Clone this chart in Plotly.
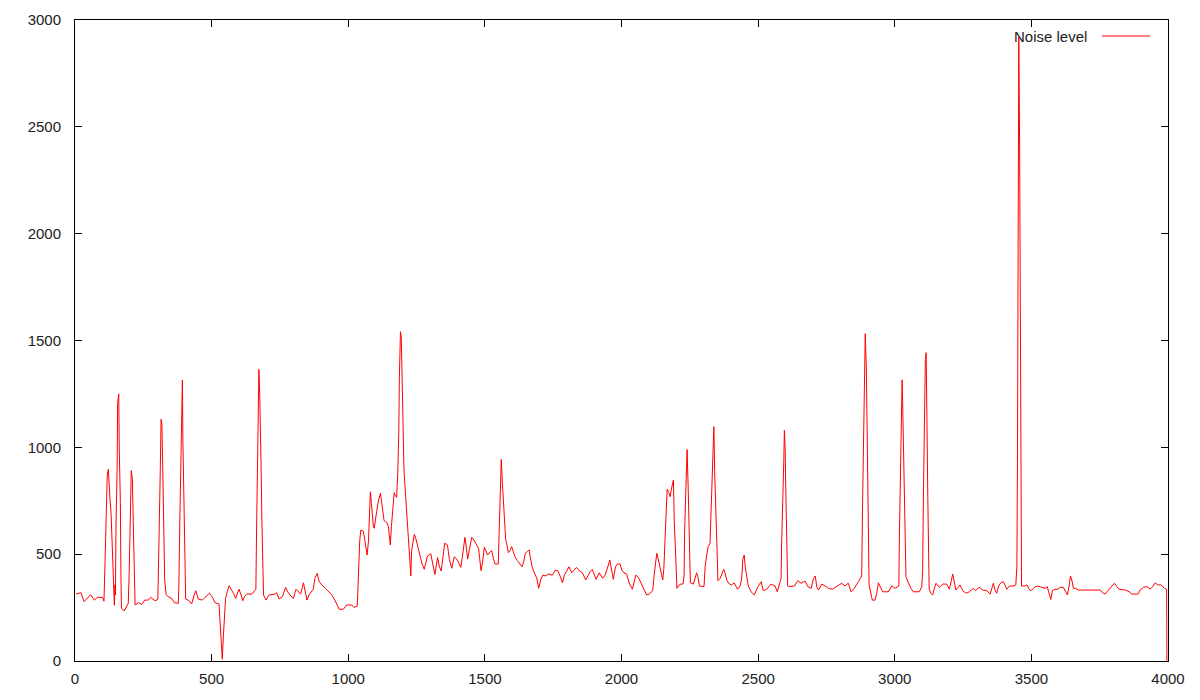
import plotly.graph_objects as go

# Sample positions and noise level values
x_vals = [4, 22, 33, 57, 71, 82, 100, 106, 111, 115, 118, 122, 124, 128, 132, 135, 139, 142, 144, 146, 148, 150,
          154, 156, 160, 162, 166, 168, 170, 180, 187, 195, 198, 201, 204, 206, 210, 212, 216, 220, 232, 244, 255,
          268, 277, 293, 303, 305, 309, 312, 315, 318, 321, 325, 328, 333, 339, 354, 363, 378, 380, 384, 387, 390,
          393, 395, 399, 403, 405, 415, 427, 436, 442, 451, 466, 476, 492,
          503, 512, 527, 531, 533, 537, 539, 543, 546, 551, 557, 564, 571, 580, 588, 593, 600, 608, 614, 620, 628,
          647, 656, 662, 664, 667, 671, 673, 676, 678, 681, 684, 687, 690, 699, 710, 732, 738, 747, 759, 771, 778,
          787, 799, 809, 817, 826, 836, 842, 849, 856, 864, 872, 878, 886, 894, 903, 917, 930, 940, 952, 961, 967,
          982, 988,
          994, 1013, 1021, 1033, 1035, 1038, 1042, 1046, 1055, 1060, 1065, 1069, 1074, 1077, 1081, 1085, 1088, 1092,
          1095, 1099, 1104, 1108, 1111, 1118, 1122, 1126, 1131, 1141, 1147, 1150, 1154, 1158, 1163, 1168, 1171,
          1177, 1181, 1185, 1187, 1191, 1194, 1197, 1200, 1204, 1208, 1211, 1216, 1220, 1225, 1229, 1232, 1237,
          1242, 1248, 1255, 1263, 1270, 1278, 1290, 1302, 1309, 1317, 1327, 1333, 1340, 1348, 1353, 1363, 1370,
          1379, 1388, 1397, 1403, 1412, 1418, 1424, 1427, 1431, 1437, 1443, 1452, 1460, 1470, 1477,
          1481, 1486, 1491, 1498, 1504, 1510, 1520, 1525, 1531, 1537, 1549, 1553, 1557, 1560, 1564, 1568, 1571,
          1576, 1580, 1586, 1593, 1598, 1604, 1610, 1619, 1629, 1636, 1642, 1648, 1655, 1662, 1666, 1673, 1681,
          1690, 1697, 1704, 1712, 1723, 1732, 1747, 1757, 1767, 1776, 1784, 1791, 1800, 1808, 1818, 1826, 1835,
          1845, 1857, 1869, 1879, 1885, 1893, 1900, 1907, 1918, 1924, 1931, 1940, 1947, 1952, 1957, 1962, 1967,
          1970,
          1978, 1985, 1995, 2001, 2009, 2019, 2025, 2031, 2040, 2046, 2052, 2062, 2070, 2078, 2085, 2092, 2102,
          2114, 2120, 2124, 2129, 2135, 2141, 2147, 2151, 2155, 2159, 2163, 2167, 2173, 2178, 2182, 2186, 2190,
          2193, 2198, 2203, 2211, 2217, 2225, 2229, 2231, 2236, 2240, 2244, 2247, 2252, 2263, 2269, 2275, 2280,
          2285, 2302, 2306, 2312, 2317, 2324, 2329, 2334, 2338, 2341, 2345, 2350, 2353, 2361, 2368, 2374, 2380,
          2386, 2395, 2403, 2412, 2419, 2425, 2434, 2440, 2444, 2449, 2453, 2458, 2464, 2474, 2486, 2498, 2511,
          2519, 2532, 2547, 2562, 2570, 2578, 2584, 2586, 2590, 2594, 2596, 2599, 2601, 2605, 2608, 2617, 2633,
          2645, 2657, 2672, 2682, 2694, 2703, 2709, 2715, 2721, 2733, 2745, 2757, 2772, 2791, 2806, 2818, 2830,
          2840, 2852, 2867, 2879, 2882, 2885, 2889, 2892, 2896, 2900, 2903, 2906, 2913, 2918, 2928, 2934, 2940,
          2947, 2956, 2977, 2989, 3001, 3015, 3017, 3022, 3024, 3027, 3029, 3034, 3038, 3041, 3050, 3059, 3068,
          3090, 3099, 3102, 3105, 3108, 3112, 3115, 3117, 3121, 3124, 3126, 3132, 3139, 3144, 3151, 3163, 3176,
          3190, 3200, 3207, 3212, 3217, 3224, 3233, 3239, 3249, 3261, 3273, 3288, 3296, 3309, 3322, 3337, 3349,
          3361, 3367, 3373, 3382, 3389, 3398, 3404, 3410, 3420, 3434, 3443, 3447, 3449, 3451, 3454, 3457, 3460,
          3462, 3464, 3474, 3484, 3491, 3499, 3511, 3523, 3538, 3550, 3558, 3565, 3571, 3577, 3587, 3597, 3605,
          3617, 3626, 3632, 3638, 3643, 3648, 3654, 3663, 3672, 3690, 3715, 3752, 3760, 3770, 3782, 3794, 3804,
          3813, 3821, 3843, 3858, 3868, 3890, 3898, 3910, 3924, 3935, 3944, 3953, 3963, 3975, 3987, 3995, 3996]

noise_vals = [313, 320, 278, 310, 285, 298, 298, 280, 516, 719, 870, 897, 839, 757, 692, 586, 454, 356, 261, 356, 309, 632,
              881, 1206, 1250, 987, 741, 407, 247, 234, 254, 270, 398, 608, 761, 891, 850, 641, 484, 262, 273, 265, 285,
              285, 298, 282, 288, 402, 608, 889, 1131, 1109, 917, 649, 387, 313, 302, 293, 273, 270, 345, 683, 936, 1272,
              1315, 1022, 777, 445, 290, 285, 267, 309, 329, 290, 285, 298, 317,
              298, 273, 267, 195, 132, 48, 8, 114, 215, 293, 324, 352, 336, 317, 293, 309, 336, 309, 282, 301, 313,
              313, 329, 336, 566, 902, 1156, 1365, 1250, 1162, 909, 652, 345, 309, 285, 309, 313, 320, 290, 301, 345, 324,
              309, 293, 336, 324, 313, 366, 320, 285, 309, 324, 336, 387, 410, 371, 356, 340, 324, 309, 282, 257, 242,
              242, 251,
              262, 262, 251, 257, 329, 445, 563, 613, 608, 570, 533, 496, 560, 691, 792, 737, 679, 626,
              621, 669, 700, 731, 754, 785, 746, 695, 657, 648, 629, 591, 543, 629, 695, 788, 777,
              766, 875, 1066, 1323, 1541, 1515, 1338, 1120, 894, 813, 757, 652, 562, 451, 398, 518, 565,
              593, 570, 530, 491, 455, 429, 491, 502, 452, 405, 484, 445, 421, 499, 551, 543, 476,
              434, 488, 477, 462, 438, 491, 554, 579, 543, 477, 519, 579, 566, 543, 527,
              480, 423, 457, 532, 516, 496, 512, 516, 480, 454, 454, 675, 804, 944, 835, 747, 629,
              570, 548, 507, 520, 535, 512, 488, 470, 454, 441, 465, 504, 512, 520, 488, 441, 413,
              387, 340, 379, 402, 398, 407, 402, 423, 423, 395, 366, 402, 426, 441, 413, 426, 438,
              423, 413, 379, 402, 418, 429, 402, 382, 413, 402, 387, 402, 426, 449, 473, 441, 402,
              382,
              441, 454, 454, 426, 413, 407, 379, 356, 336, 371, 402, 391, 371, 351, 329, 309, 313,
              329, 407, 465, 504, 473, 434, 407, 379, 434, 566, 707, 804, 788, 769, 801, 835, 847,
              660, 441, 340, 356, 360, 360, 398, 605, 807, 990, 815, 621, 366, 360, 387, 413, 391,
              351, 348, 441, 496, 535, 551, 792, 933, 1097, 886, 704, 457, 376, 387, 407, 429, 407,
              376, 360, 356, 366, 351, 336, 351, 387, 476, 496, 441, 398, 351, 324, 309, 345, 371,
              329, 336, 360, 351, 324, 356, 387, 543, 710, 938, 1079, 991, 816, 579, 351, 348, 351,
              376, 364, 374, 348, 340, 387, 398, 345, 332, 360, 351, 340, 336, 351, 364, 351, 364,
              324, 340, 371, 398, 715, 1004, 1386, 1532, 1371, 1079, 679, 356, 309, 285, 285, 317, 366,
              345, 324, 324, 352, 340, 351, 583, 902, 1136, 1316, 1204, 902, 668, 395, 366, 340, 324,
              324, 348, 418, 777, 1136, 1412, 1443, 1129, 769, 501, 336, 317, 309, 336, 364, 345, 360,
              360, 336, 376, 407, 376, 332, 345, 356, 329, 317, 324, 340, 329, 345, 332, 329, 313,
              364, 332, 317, 356, 366, 371, 351, 336, 351, 351, 356, 441, 925, 1940, 2920, 2400, 1720,
              866, 351, 351, 356, 336, 329, 345, 351, 345, 340, 348, 309, 288, 329, 336, 336, 345,
              345, 324, 309, 351, 398, 379, 340, 340, 332, 332, 332, 332, 320, 313, 332, 351, 364,
              348, 336, 332, 324, 313, 313, 332, 345, 348, 336, 348, 366, 356, 356, 340, 336, 0]

x_tick_vals = [0, 500, 1000, 1500, 2000, 2500, 3000, 3500, 4000]
y_tick_vals = [0, 500, 1000, 1500, 2000, 2500, 3000]
series_name = "Noise level"

FONT = "Liberation Sans, Arial, sans-serif"

fig = go.Figure()
fig.add_trace(go.Scatter(
    x=x_vals, y=noise_vals, mode="lines", name=series_name,
    line=dict(color="#ff0000", width=1),
    showlegend=False,
))

axis_common = dict(
    showgrid=False, zeroline=False, showline=True, linecolor="black", linewidth=1,
    mirror="allticks", ticks="inside", ticklen=7, tickcolor="black", tickwidth=1,
    tickfont=dict(family=FONT, size=15, color="#222222"), automargin=False,
)

fig.update_xaxes(range=[0, 4000], tickvals=x_tick_vals, ticklabelstandoff=4, **axis_common)
fig.update_yaxes(range=[0, 3000], tickvals=y_tick_vals, ticklabelstandoff=10, **axis_common)

# gnuplot-style key: text on the left, line sample on the right
fig.add_annotation(
    xref="paper", yref="paper", x=0.9277, y=0.975, xanchor="right", yanchor="middle",
    text=series_name, showarrow=False, font=dict(family=FONT, size=15, color="#222222"),
)
fig.add_shape(
    type="line", xref="paper", yref="paper", x0=0.9396, x1=0.9835, y0=0.975, y1=0.975,
    line=dict(color="#ff0000", width=1),
)

# page body adds an 8px offset; size and margins compensate so the plot box matches
fig.update_layout(
    width=1192, height=692,
    margin=dict(l=67, r=32, t=12, b=39, autoexpand=False),
    plot_bgcolor="white", paper_bgcolor="white",
)

fig.write_html("out.html")
